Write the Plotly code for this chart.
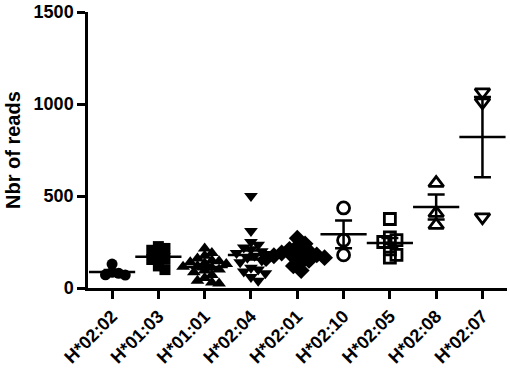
import numpy as np
import plotly.graph_objects as go

categories = ["H*02:02", "H*01:03", "H*01:01", "H*02:04", "H*02:01",
              "H*02:10", "H*02:05", "H*02:08", "H*02:07"]

v_0202 = [80, 70, 130, 72, 85]
v_0103 = [225, 205, 215, 180, 155, 120, 100, 160]
v_0101 = [215, 190, 175, 160, 150, 145, 140, 135, 130, 120, 115, 110, 100,
          95, 85, 70, 55, 40, 30, 25]
v_0204 = [500, 310, 250, 235, 220, 210, 200, 190, 185, 175, 165, 150, 140,
          110, 100, 90, 80, 60, 40]
v_0201 = [270, 240, 225, 210, 200, 190, 185, 180, 175, 170, 165, 160, 150,
          140, 120, 95]
v_0210 = [435, 260, 180]
v_0205 = [375, 275, 260, 250, 210, 180, 165]
v_0208 = [570, 407, 342]
v_0207 = [1065, 1010, 385]

series = [v_0202, v_0103, v_0101, v_0204, v_0201, v_0210, v_0205, v_0208, v_0207]

y_ticks = [0, 500, 1000, 1500]
y_title = "Nbr of reads"

# styles
symbols = ["circle", "square", "triangle-up", "triangle-down", "diamond",
           "circle-open", "square-open", "triangle-up-open", "triangle-down-open"]
sizes = [11, 11, 12, 12, 13, 12, 11, 13, 13]

W, H = 510, 374
ML, MR, MT, MB = 88, 3, 12, 86
XR = [-0.52, 8.53]
YR = [0, 1500]
px_x = (W - ML - MR) / (XR[1] - XR[0])
px_y = (H - MT - MB) / (YR[1] - YR[0])


def swarm(vals, d):
    """deterministic beeswarm offsets (in data x units)"""
    placed = []
    offs = [0.0] * len(vals)
    order = sorted(range(len(vals)), key=lambda i: -vals[i])
    step = d * 0.3
    for i in order:
        yp = vals[i] * px_y
        k = 0
        while True:
            cands = [0.0] if k == 0 else [k * step, -k * step]
            ok = None
            for c in cands:
                if all((c - px) ** 2 + (yp - py) ** 2 >= (0.6 * d) ** 2 for px, py in placed):
                    ok = c
                    break
            if ok is not None:
                placed.append((ok, yp))
                offs[i] = ok / px_x
                break
            k += 1
    return offs


fig = go.Figure()
font = "Arial, 'Liberation Sans', sans-serif"

for ci, vals in enumerate(series):
    offs = swarm(vals, sizes[ci])
    xs = [ci + o for o in offs]
    is_open = symbols[ci].endswith("open")
    fig.add_trace(go.Scatter(
        x=xs, y=vals, mode="markers", showlegend=False, cliponaxis=False,
        marker=dict(symbol=symbols[ci], size=sizes[ci], color="black",
                    line=dict(color="black", width=2.8 if is_open else 0)),
        hoverinfo="y"))

means = [float(np.mean(v)) for v in series]
sems = [float(np.std(v, ddof=1) / np.sqrt(len(v))) for v in series]
xs_c = list(range(len(categories)))

fig.add_trace(go.Scatter(
    x=xs_c, y=means, mode="markers", showlegend=False, cliponaxis=False,
    marker=dict(symbol="line-ew-open", size=33, color="black",
                line=dict(color="black", width=2.5)),
    error_y=dict(type="data", array=sems, visible=True, color="black",
                 thickness=2.5, width=8.5),
    hoverinfo="y"))

fig.add_annotation(
    text=y_title, textangle=-90, showarrow=False,
    xref="paper", yref="paper", x=0, y=0.5, xanchor="center", yanchor="middle",
    xshift=-(ML - 13),
    font=dict(size=20, family=font, weight="bold", color="black"))

fig.update_layout(
    width=W, height=H,
    margin=dict(l=ML, r=MR, t=MT, b=MB, autoexpand=False),
    paper_bgcolor="white", plot_bgcolor="white",
    font=dict(family=font, color="black"),
    xaxis=dict(range=XR, tickmode="array", tickvals=xs_c, ticktext=categories,
               tickangle=-45, ticks="outside", ticklen=8, tickwidth=2.5,
               tickcolor="black", showline=True, linewidth=2.5, linecolor="black",
               showgrid=False, zeroline=False, automargin=False,
               ticklabeloverflow="allow",
               tickfont=dict(size=18, family=font, weight="bold")),
    yaxis=dict(range=YR, tickmode="array", tickvals=y_ticks,
               ticks="outside", ticklen=8, tickwidth=2.5, tickcolor="black",
               showline=True, linewidth=2.5, linecolor="black",
               showgrid=False, zeroline=False, automargin=False,
               ticklabeloverflow="allow",
               tickfont=dict(size=18, family=font, weight="bold")),
)

fig.write_html("out.html",
               config={"displayModeBar": False},
               post_script="document.body.style.margin='0';")
